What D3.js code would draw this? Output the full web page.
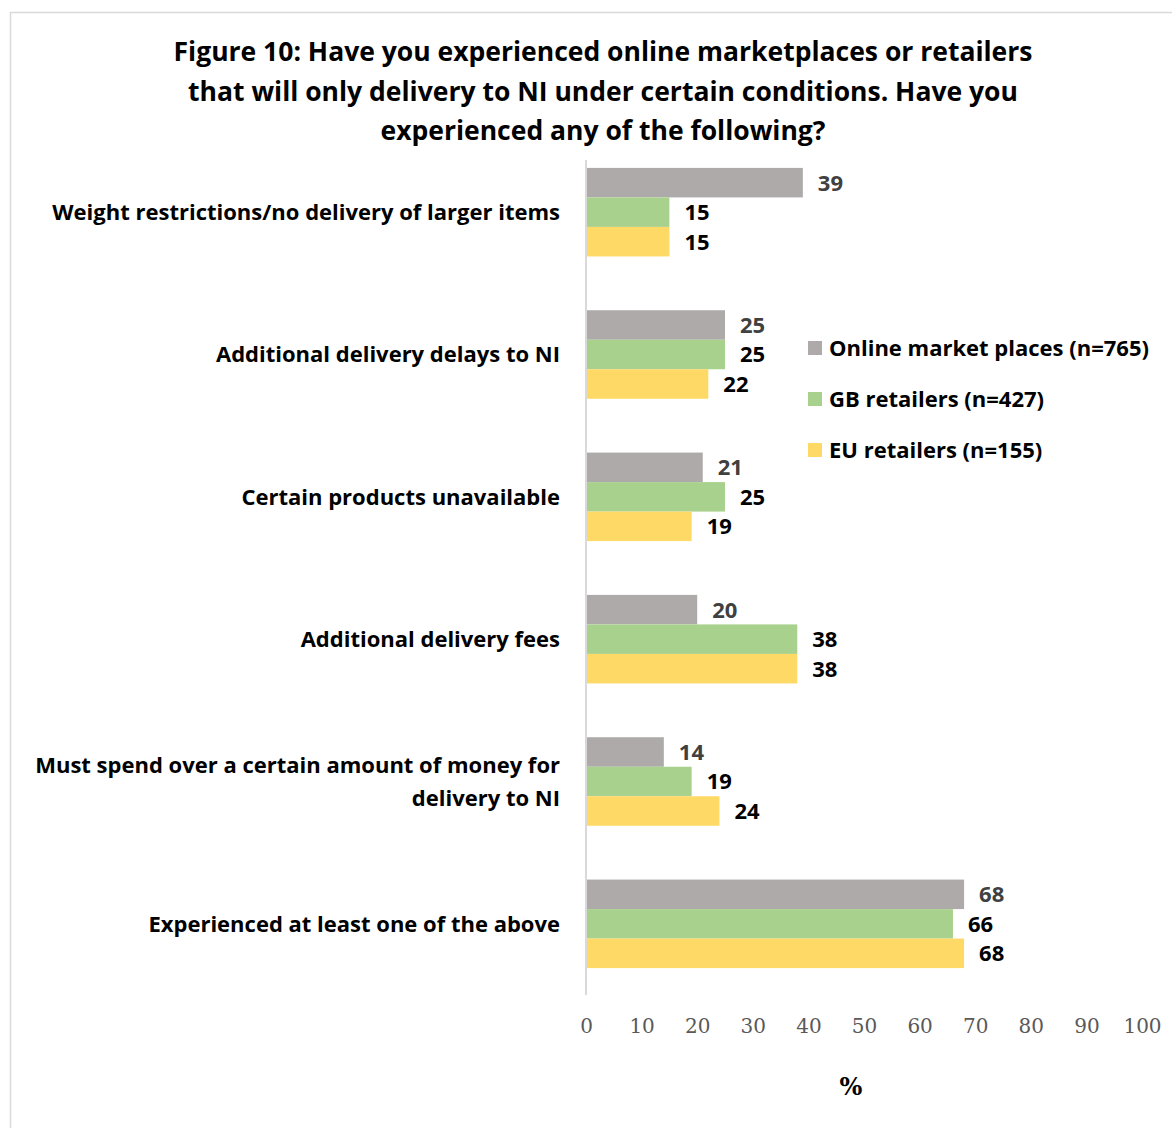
<!DOCTYPE html>
<html>
<head>
<meta charset="utf-8">
<script src="https://cdn.jsdelivr.net/npm/d3@7"></script>
<style>
  html, body { margin: 0; padding: 0; background: #fff; }
  svg { display: block; }
</style>
</head>
<body>
<svg id="chart" width="1172" height="1128"></svg>
<script>
// Survey responses, % of respondents per retailer type
const categories = [
  ["Weight restrictions/no delivery of larger items"],
  ["Additional delivery delays to NI"],
  ["Certain products unavailable"],
  ["Additional delivery fees"],
  ["Must spend over a certain amount of money for", "delivery to NI"],
  ["Experienced at least one of the above"]
];
const seriesNames = ["Online market places (n=765)", "GB retailers (n=427)", "EU retailers (n=155)"];
const onlineMarketplaces = [39, 25, 21, 20, 14, 68];
const gbRetailers = [15, 25, 25, 38, 19, 66];
const euRetailers = [15, 22, 19, 38, 24, 68];
const tickValues = [0, 10, 20, 30, 40, 50, 60, 70, 80, 90, 100];
const titleLines = [
  "Figure 10: Have you experienced online marketplaces or retailers",
  "that will only delivery to NI under certain conditions. Have you",
  "experienced any of the following?"
];

const seriesValues = [onlineMarketplaces, gbRetailers, euRetailers];
const colors = ["#aeaaaa", "#a9d18e", "#ffd966"];
const labelColors = ["#404040", "#000000", "#000000"];
const sans = "'Open Sans', 'Noto Sans', sans-serif";
const serif = "'DejaVu Serif', 'Liberation Serif', serif";

const svg = d3.select("#chart");

// Outer chart frame
svg.append("rect")
  .attr("x", 10.5).attr("y", 12.5)
  .attr("width", 1300).attr("height", 1300)
  .attr("fill", "none").attr("stroke", "#d9d9d9").attr("stroke-width", 1.5);

// Title
const title = svg.append("text")
  .attr("text-anchor", "middle")
  .attr("font-family", sans).attr("font-weight", 700)
  .attr("font-size", 26.5).attr("fill", "#000");
titleLines.forEach((t, i) => {
  title.append("tspan").attr("x", 603).attr("y", 61 + i * 39.5).text(t);
});

const x = d3.scaleLinear().domain([0, 100]).range([586, 1142]);
const y = d3.scaleBand().domain(d3.range(categories.length))
  .range([141, 995]).paddingInner(0.378).paddingOuter(0.189);
const ySub = d3.scaleBand().domain(d3.range(seriesValues.length))
  .range([0, y.bandwidth()]);

// Bars and value labels
const groups = svg.append("g").selectAll("g")
  .data(categories).join("g")
  .attr("transform", (d, i) => `translate(0,${y(i)})`);

seriesValues.forEach((vals, s) => {
  groups.append("rect")
    .attr("x", x(0))
    .attr("y", ySub(s))
    .attr("width", (d, i) => x(vals[i]) - x(0))
    .attr("height", ySub.bandwidth())
    .attr("fill", colors[s]);
  groups.append("text")
    .attr("x", (d, i) => x(vals[i]) + 15)
    .attr("y", ySub(s) + ySub.bandwidth() / 2)
    .attr("dy", "0.36em")
    .attr("font-family", sans).attr("font-weight", 700)
    .attr("font-size", 22).attr("fill", labelColors[s])
    .text((d, i) => vals[i]);
});

// Category axis line
svg.append("line")
  .attr("x1", x(0)).attr("x2", x(0))
  .attr("y1", 160).attr("y2", 995)
  .attr("stroke", "#d9d9d9").attr("stroke-width", 2);

// Category labels
groups.each(function(lines, i) {
  const t = d3.select(this).append("text")
    .attr("text-anchor", "end")
    .attr("font-family", sans).attr("font-weight", 700)
    .attr("font-size", 22).attr("fill", "#000");
  const mid = y.bandwidth() / 2;
  lines.forEach((ln, j) => {
    t.append("tspan")
      .attr("x", 560)
      .attr("y", mid + (j - (lines.length - 1) / 2) * 33)
      .attr("dy", "0.36em")
      .text(ln);
  });
});

// Value axis
const axis = svg.append("g")
  .attr("transform", "translate(0,1026)")
  .call(d3.axisBottom(x).tickValues(tickValues).tickSize(0).tickPadding(0));
axis.select(".domain").remove();
axis.selectAll("text")
  .attr("font-family", serif).attr("font-size", 20)
  .attr("fill", "#595959").attr("dy", "0.36em");

svg.append("text")
  .attr("x", 851).attr("y", 1086).attr("dy", "0.36em")
  .attr("text-anchor", "middle")
  .attr("font-family", serif).attr("font-weight", 700)
  .attr("font-size", 24).attr("fill", "#000")
  .text("%");

// Legend
const legend = svg.append("g").selectAll("g")
  .data(seriesNames).join("g")
  .attr("transform", (d, i) => `translate(808,${348 + i * 51})`);
legend.append("rect")
  .attr("x", 0).attr("y", -7).attr("width", 14).attr("height", 14)
  .attr("fill", (d, i) => colors[i]);
legend.append("text")
  .attr("x", 21).attr("dy", "0.36em")
  .attr("font-family", sans).attr("font-weight", 700)
  .attr("font-size", 22).attr("fill", "#000")
  .text(d => d);
</script>
</body>
</html>
